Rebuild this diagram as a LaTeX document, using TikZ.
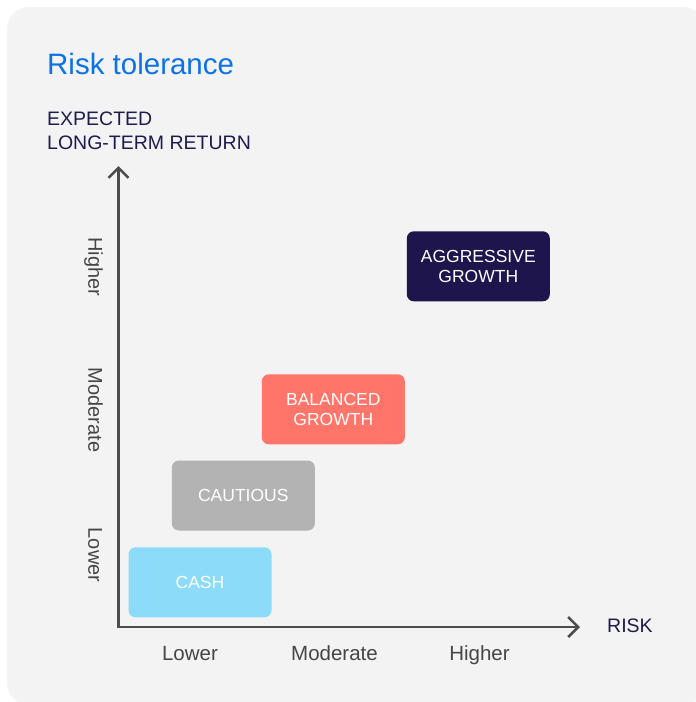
\documentclass[tikz,border=0pt]{standalone}
\usepackage{fontspec}
\setmainfont{Liberation Sans}
\usetikzlibrary{arrows.meta}
\definecolor{panel}{HTML}{F3F3F3}
\definecolor{titleblue}{HTML}{0B72E7}
\definecolor{navy}{HTML}{1F1A4E}
\definecolor{boxnavy}{HTML}{1E154D}
\definecolor{coral}{HTML}{FF7569}
\definecolor{skyblue}{HTML}{8BDBF9}
\definecolor{boxgray}{HTML}{B3B3B3}
\definecolor{axisgray}{HTML}{4D4D4D}
\definecolor{labelgray}{HTML}{454545}
\tikzset{
  catbox/.style={rounded corners=7pt, minimum width=143pt, minimum height=70pt,
    inner sep=0pt, text=white, align=center,
    font=\fontsize{17.5}{19.5}\selectfont},
  axisline/.style={draw=axisgray, line width=2.5pt,
    arrows={Straight Barb[length=10pt,width=20pt,line width=2.5pt]-Straight Barb[length=10pt,width=20pt,line width=2.5pt]}},
  ylab/.style={rotate=-90, anchor=mid, text=labelgray, font=\fontsize{20}{24}\selectfont, inner sep=0pt},
  xlab/.style={anchor=base, text=labelgray, font=\fontsize{20.5}{24}\selectfont, inner sep=0pt},
  navytext/.style={text=navy, font=\fontsize{19.5}{24}\selectfont, inner sep=0pt}
}
\begin{document}
\begin{tikzpicture}[x=1pt,y=-1pt]
\clip (0,0) rectangle (696,702);
\fill[white] (0,0) rectangle (696,702);
\fill[panel, rounded corners=22pt] (7,7) rectangle (705,705);

\node[anchor=base west, inner sep=0pt, text=titleblue, font=\fontsize{29.5}{32}\selectfont] (title) at (47,74) {Risk tolerance};
\node[anchor=base west, navytext] (exp1) at (47,125.5) {EXPECTED};
\node[anchor=base west, navytext] (exp2) at (47,149.5) {LONG-TERM RETURN};

\coordinate (ytop) at (118.5,166);
\coordinate (orig) at (118.5,627);
\coordinate (xend) at (580,627);
\draw[axisline] (ytop) -- (orig) -- (xend);

\node[anchor=base west, navytext] (risk) at (607,632) {RISK};

\node[ylab] (yhigh) at (91,267) {Higher};
\node[ylab] (ymod) at (91,410) {Moderate};
\node[ylab] (ylow) at (91,555) {Lower};

\node[xlab] (xlow) at (190,660.5) {Lower};
\node[xlab] (xmod) at (334.5,660.5) {Moderate};
\node[xlab] (xhigh) at (479.5,660.5) {Higher};

\node[catbox, fill=skyblue] (cash) at (200,582.3) {CASH};
\node[catbox, fill=boxgray] (cautious) at (243.3,495.5) {CAUTIOUS};
\node[catbox, fill=coral] (balanced) at (333.3,409.3) {BALANCED\\GROWTH};
\node[catbox, fill=boxnavy] (aggressive) at (478.3,266.3) {AGGRESSIVE\\GROWTH};
\end{tikzpicture}
\end{document}
